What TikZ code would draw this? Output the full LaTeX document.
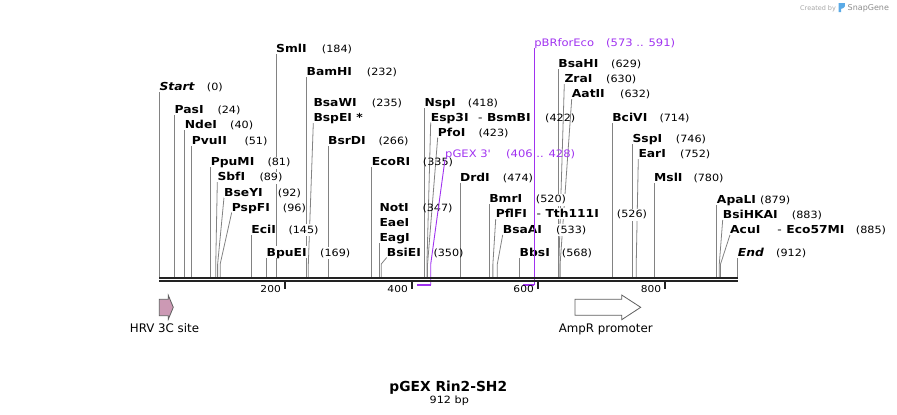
\documentclass[tikz,border=0pt]{standalone}
\usepackage{fontspec}
\setmainfont{DejaVu Sans}[FakeStretch=1.12, ItalicFont={DejaVu Sans Oblique}, BoldItalicFont={DejaVu Sans Bold Oblique}]
\newfontfamily\featfont{DejaVu Sans}
\definecolor{cutgray}{RGB}{130,130,130}
\definecolor{primer}{RGB}{160,50,240}
\definecolor{hrvpink}{RGB}{204,153,180}
\definecolor{featgray}{RGB}{95,95,95}
\definecolor{backbone}{RGB}{34,34,34}
\definecolor{logoblue}{RGB}{90,170,230}

\begin{document}
\begin{tikzpicture}[x=1pt, y=-1pt,
    enz/.style={anchor=base west, inner xsep=0pt, inner ysep=1.5pt, text depth=0pt, fill=white, font=\fontsize{11}{13}\selectfont\bfseries},
    num/.style={anchor=base west, inner xsep=0pt, inner ysep=1.5pt, fill=white, font=\fontsize{10}{12}\selectfont},
    clear/.style={fill=none},
    cut/.style={draw=cutgray, line width=0.8pt}]
    \tikzset{primerlab/.style={anchor=base west, inner xsep=0pt, inner ysep=1.5pt, text depth=0pt, text=primer, font=\fontsize{10.3}{12}\selectfont},
        primerline/.style={draw=primer, line width=0.9pt},
        primerbar/.style={draw=primer, line width=1.6pt},
        featlab/.style={anchor=base, font=\featfont\fontsize{11.8}{14}\selectfont},
        feat/.style={draw=featgray, line width=0.8pt},
        ticklab/.style={anchor=base east, inner sep=0pt, font=\fontsize{9.5}{12}\selectfont}};
    \useasboundingbox (0,0) rectangle (897,415);

    \foreach \n/\p in {start/0, pasI/24, ndeI/40, pvuII/51, ppuMI/81, sbfI/89, bseYI/92, pspFI/96,
        eciI/145, bpuEI/169, smlI/184, bamHI/232, bsaWI/235, bsrDI/266, ecoRI/335, notI/347,
        bsiEI/350, nspI/418, esp3I/422, pfoI/423, drdI/474, bmrI/520, pflFI/526, bsaAI/533,
        bbsI/568, bsaHI/629, zraI/630, aatII/632, bciVI/714, sspI/746, earI/752, mslI/780,
        apaLI/879, bsiHKAI/883, acuI/885, end/912}
        \coordinate (c\n) at ({159.3+0.6342*\p},277);
    \coordinate (pgexL) at ({159.3+0.6342*406},285);
    \coordinate (pgexR) at ({159.3+0.6342*428},285);
    \coordinate (pbrL) at ({159.3+0.6342*573},285);
    \coordinate (pbrR) at ({159.3+0.6342*591},285);

    \draw[cut] (cstart) -- (cstart |- 0,92);
    \draw[cut] (cpasI) -- (cpasI |- 0,115);
    \draw[cut] (cndeI) -- (cndeI |- 0,130);
    \draw[cut] (cpvuII) -- (cpvuII |- 0,145.5);
    \draw[cut] (cppuMI) -- (cppuMI |- 0,167);
    \draw[cut] (csbfI) -- ++(0,-13) -- (217.3,182.2);
    \draw[cut] (cbseYI) -- ++(0,-13) -- (224,197.5);
    \draw[cut] (cpspFI) -- ++(0,-13) -- (231.7,212.5);
    \draw[cut] (ceciI) -- (ceciI |- 0,235);
    \draw[cut] (cbpuEI) -- (cbpuEI |- 0,257.5);
    \draw[cut] (csmlI) -- (csmlI |- 0,54.2);
    \draw[cut] (cbamHI) -- (cbamHI |- 0,77.2);
    \draw[cut] (cbsaWI) -- ++(0,-13) -- (313.3,123.2);
    \draw[cut] (cbsrDI) -- (cbsrDI |- 0,145.5);
    \draw[cut] (cecoRI) -- (cecoRI |- 0,167.2);
    \draw[cut] (cnotI) -- (cnotI |- 0,242.5);
    \draw[cut] (cbsiEI) -- ++(0,-13) -- (386.7,257.5);
    \draw[cut] (cnspI) -- (cnspI |- 0,107.5);
    \draw[cut] (cesp3I) -- ++(0,-13) -- (430.7,122.5);
    \draw[cut] (cpfoI) -- ++(0,-13) -- (437.7,137.5);
    \draw[cut] (cdrdI) -- (cdrdI |- 0,182.5);
    \draw[cut] (cbmrI) -- (cbmrI |- 0,204.2);
    \draw[cut] (cpflFI) -- ++(0,-13) -- (495.7,219.2);
    \draw[cut] (cbsaAI) -- ++(0,-13) -- (502.7,234.8);
    \draw[cut] (cbbsI) -- (cbbsI |- 0,257.5);
    \draw[cut] (cbsaHI) -- (cbsaHI |- 0,69.2);
    \draw[cut] (czraI) -- ++(0,-13) -- (564.3,84.2);
    \draw[cut] (caatII) -- ++(0,-13) -- (571.7,99.2);
    \draw[cut] (cbciVI) -- (cbciVI |- 0,122.5);
    \draw[cut] (csspI) -- (csspI |- 0,144.2);
    \draw[cut] (cearI) -- ++(0,-13) -- (638.3,159.2);
    \draw[cut] (cmslI) -- (cmslI |- 0,182.5);
    \draw[cut] (capaLI) -- (capaLI |- 0,204.8);
    \draw[cut] (cbsiHKAI) -- ++(0,-13) -- (722.7,219.8);
    \draw[cut] (cacuI) -- ++(0,-13) -- (730,234.8);
    \draw[cut] (cend) -- (cend |- 0,257.5);

    \node[enz] (startL) at (cstart |- 0,90) {\itshape Start};
    \node[num] (startN) at (206.7,90) {(0)};
    \node[enz] (pasI) at (cpasI |- 0,113.3) {PasI};
    \node[num] (pasIn) at (217.3,113.3) {(24)};
    \node[enz] (ndeI) at (cndeI |- 0,128.3) {NdeI};
    \node[num] (ndeIn) at (230,128.3) {(40)};
    \node[enz] (pvuII) at (cpvuII |- 0,144) {PvuII};
    \node[num] (pvuIIn) at (244.3,144) {(51)};
    \node[enz] (ppuMI) at (cppuMI |- 0,165.7) {PpuMI};
    \node[num] (ppuMIn) at (267.3,165.7) {(81)};
    \node[enz] (sbfI) at (217.3,180.7) {SbfI};
    \node[num] (sbfIn) at (259.3,180.7) {(89)};
    \node[enz] (bseYI) at (224,196) {BseYI};
    \node[num] (bseYIn) at (277.7,196) {(92)};
    \node[enz] (pspFI) at (231.7,211) {PspFI};
    \node[num] (pspFIn) at (282.7,211) {(96)};
    \node[enz, clear] (eciI) at (ceciI |- 0,233.3) {EciI};
    \node[num] (eciIn) at (288.3,233.3) {(145)};
    \node[enz] (bpuEI) at (cbpuEI |- 0,256) {BpuEI};
    \node[num] (bpuEIn) at (320,256) {(169)};
    \node[enz] (smlI) at (csmlI |- 0,52.7) {SmlI};
    \node[num] (smlIn) at (321.7,52.7) {(184)};
    \node[enz] (bamHI) at (cbamHI |- 0,75.7) {BamHI};
    \node[num] (bamHIn) at (366.7,75.7) {(232)};
    \node[enz] (bsaWI) at (313.3,106.7) {BsaWI};
    \node[num] (bsaWIn) at (371.7,106.7) {(235)};
    \node[enz] (bspEI) at (313.3,121.7) {BspEI *};
    \node[enz] (bsrDI) at (cbsrDI |- 0,144) {BsrDI};
    \node[num] (bsrDIn) at (378.3,144) {(266)};
    \node[enz] (ecoRI) at (cecoRI |- 0,165.7) {EcoRI};
    \node[num, clear] (ecoRIn) at (422.7,165.7) {(335)};
    \node[enz] (notI) at (cnotI |- 0,211) {NotI};
    \node[num, clear] (notIn) at (422.3,211) {(347)};
    \node[enz] (eaeI) at (cnotI |- 0,226) {EaeI};
    \node[enz] (eagI) at (cnotI |- 0,241) {EagI};
    \node[enz] (bsiEI) at (386.7,256) {BsiEI};
    \node[num, clear] (bsiEIn) at (433.3,256) {(350)};
    \node[enz] (nspI) at (cnspI |- 0,106) {NspI};
    \node[num] (nspIn) at (467.7,106) {(418)};
    \node[enz] (esp3I) at (430.7,121) {Esp3I\hspace{9.5pt}{\mdseries -}\hspace{4.5pt}BsmBI};
    \node[num, clear] (esp3In) at (545,121) {(422)};
    \node[enz] (pfoI) at (437.7,136) {PfoI};
    \node[num] (pfoIn) at (478.3,136) {(423)};
    \node[enz] (drdI) at (cdrdI |- 0,181) {DrdI};
    \node[num] (drdIn) at (502.7,181) {(474)};
    \node[enz] (bmrI) at (cbmrI |- 0,202.7) {BmrI};
    \node[num] (bmrIn) at (535.7,202.7) {(520)};
    \node[enz] (pflFI) at (495.7,217.7) {PflFI\hspace{9.5pt}{\mdseries -}\hspace{4.5pt}Tth111I};
    \node[num] (pflFIn) at (616.7,217.7) {(526)};
    \node[enz] (bsaAI) at (502.7,233.3) {BsaAI};
    \node[num] (bsaAIn) at (556,233.3) {(533)};
    \node[enz] (bbsI) at (cbbsI |- 0,256) {BbsI};
    \node[num] (bbsIn) at (561.7,256) {(568)};
    \node[enz] (bsaHI) at (cbsaHI |- 0,67.7) {BsaHI};
    \node[num] (bsaHIn) at (611,67.7) {(629)};
    \node[enz] (zraI) at (564.3,82.7) {ZraI};
    \node[num] (zraIn) at (606,82.7) {(630)};
    \node[enz] (aatII) at (571.7,97.7) {AatII};
    \node[num] (aatIIn) at (620,97.7) {(632)};
    \node[enz] (bciVI) at (cbciVI |- 0,121) {BciVI};
    \node[num] (bciVIn) at (659.3,121) {(714)};
    \node[enz] (sspI) at (csspI |- 0,142.7) {SspI};
    \node[num] (sspIn) at (675.7,142.7) {(746)};
    \node[enz] (earI) at (638.3,157.7) {EarI};
    \node[num] (earIn) at (680,157.7) {(752)};
    \node[enz] (mslI) at (cmslI |- 0,181) {MslI};
    \node[num] (mslIn) at (693.3,181) {(780)};
    \node[enz] (apaLI) at (capaLI |- 0,203.3) {ApaLI};
    \node[num] (apaLIn) at (760,203.3) {(879)};
    \node[enz] (bsiHKAI) at (722.7,218.3) {BsiHKAI};
    \node[num] (bsiHKAIn) at (791.7,218.3) {(883)};
    \node[enz] (acuI) at (730,233.3) {AcuI\hspace{17pt}{\mdseries -}\hspace{4.5pt}Eco57MI};
    \node[num] (acuIn) at (855.7,233.3) {(885)};
    \node[enz] (endL) at (cend |- 0,256) {\itshape End};
    \node[num] (endN) at (776,256) {(912)};

    \node[primerlab] (pgex) at (445,157.7) {pGEX 3\textquotesingle};
    \node[primerlab] (pgexN) at (506,157.7) {(406 .. 428)};
    \node[primerlab] (pbr) at (pbrR |- 0,46) {pBRforEco};
    \node[primerlab] (pbrN) at (606,46) {(573 .. 591)};
    \draw[primerline] (pgex.south west) -- (pgexR |- 0,264) -- (pgexR);
    \draw[primerbar] (pgexR) -- (pgexL);
    \draw[primerline] (pbr.south west) -- (pbrR);
    \draw[primerbar] (pbrR) -- (pbrL);

    \draw[backbone, line width=2pt] (cstart |- 0,277.7) -- (cend |- 0,277.7);
    \draw[backbone, line width=2pt] (cstart |- 0,281.3) -- (cend |- 0,281.3);
    \foreach \t/\x in {200/284.7, 400/411.7, 600/537.7, 800/665} {
        \draw[backbone, line width=1.6pt] (\x,282) -- (\x,289.3);
        \node[ticklab] (t\t) at (\x-3.7,292.7) {\t};
    }

    \draw[feat, fill=hrvpink] (159.3,299.3) -- (168.3,299.3) -- (168.3,295.3) -- (173.3,307.3)
        -- (168.3,319.3) -- (168.3,315.7) -- (159.3,315.7) -- cycle;
    \node[featlab] (hrv) at (164.5,332.7) {HRV 3C site};
    \draw[feat, fill=white] (575,299.3) -- (621.7,299.3) -- (621.7,295) -- (640.7,307.3)
        -- (621.7,319.7) -- (621.7,315.3) -- (575,315.3) -- cycle;
    \node[featlab] (ampr) at (605.8,332.7) {AmpR promoter};

    \node[anchor=base, font=\featfont\bfseries\fontsize{13.8}{16}\selectfont] (title) at (448.3,391.5) {pGEX Rin2-SH2};
    \node[anchor=base, font=\fontsize{10}{12}\selectfont] (size) at (449.3,403.5) {912 bp};

    \node[anchor=base west, inner sep=0pt, text=black!35, font=\featfont\fontsize{6.5}{8}\selectfont] (made) at (800,10) {Created by};
    \fill[logoblue] (838.5,3) -- (845,3) .. controls (846,5.5) and (844.5,8.5) .. (841.2,8.8)
        -- (841.2,12) -- (838.5,12) -- cycle;
    \node[anchor=base west, inner sep=0pt, text=black!45, font=\featfont\fontsize{8}{10}\selectfont] (sg) at (847.5,10.5) {SnapGene};
\end{tikzpicture}
\end{document}
